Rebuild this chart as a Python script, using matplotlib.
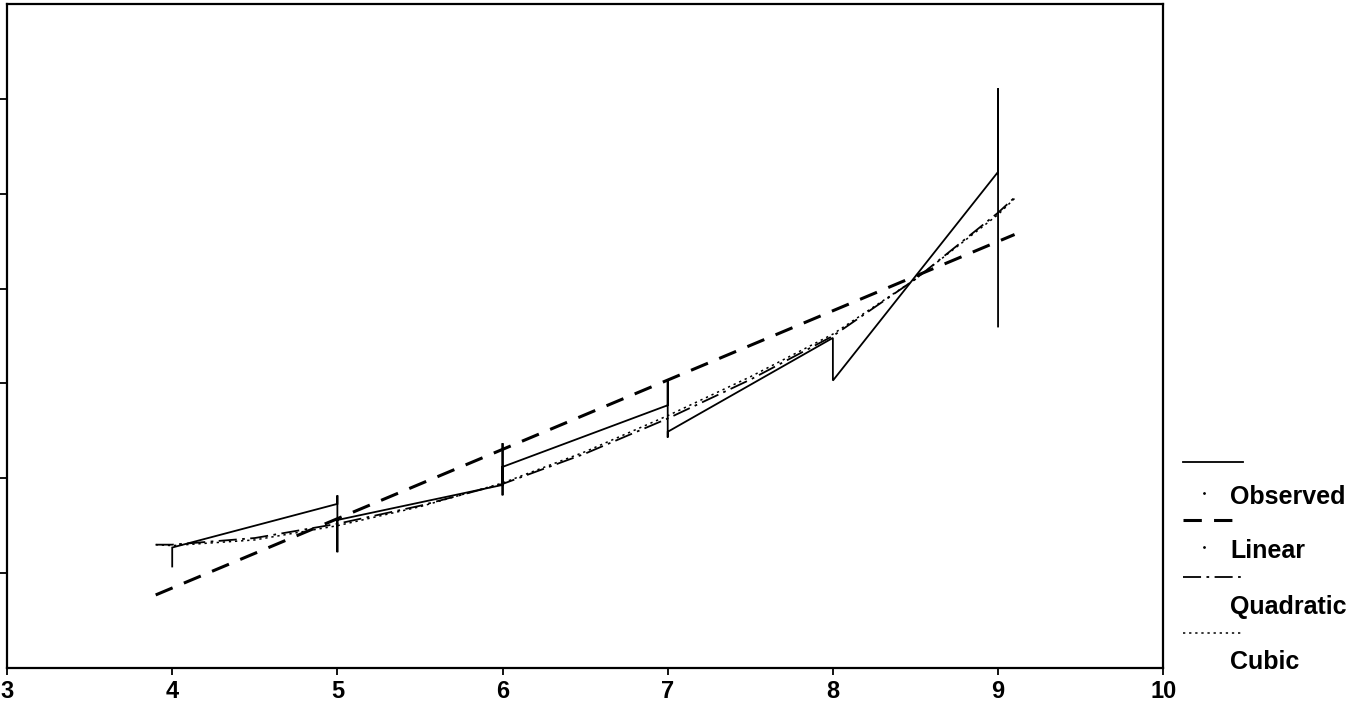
import numpy as np
import matplotlib.pyplot as plt
from matplotlib.lines import Line2D

plt.rcParams['font.family'] = ['Liberation Sans', 'DejaVu Sans']

# Beobachtete Werte (mehrere Messungen je x, in Reihenfolge verbunden)
obs_x = [4, 4, 5, 5, 5, 5, 6, 6, 6, 6, 7, 7, 7, 7, 8, 8, 9, 9, 9]
obs_y = [1.07, 1.27, 1.73, 1.82, 1.22, 1.56, 1.93, 2.37, 1.82, 2.12,
         2.77, 3.04, 2.43, 2.49, 3.48, 3.03, 5.23, 6.11, 3.60]

# Angepasste Kurven
lin_x = [3.9, 9.1]
lin_y = [0.77, 4.57]

fit_x = [3.9, 4.0, 4.5, 5.0, 5.5, 6.0, 6.5, 7.0, 7.5, 8.0, 8.5, 9.0, 9.1]
quad_y = [1.30, 1.30, 1.37, 1.52, 1.71, 1.94, 2.26, 2.63, 3.04, 3.50, 4.10, 4.80, 4.96]
cub_y = [1.30, 1.29, 1.35, 1.50, 1.70, 1.95, 2.28, 2.66, 3.07, 3.52, 4.10, 4.78, 4.95]

x_ticks = [3, 4, 5, 6, 7, 8, 9, 10]
y_ticks = [1, 2, 3, 4, 5, 6]

fig = plt.figure(figsize=(13.54, 7.07), dpi=100)
ax = fig.add_axes([0.0052, 0.0552, 0.8539, 0.9391])

ax.plot(obs_x, obs_y, color='black', lw=1.3, solid_joinstyle='miter')
ax.plot(lin_x, lin_y, color='black', lw=2.2, dashes=(6, 4))
ax.plot(fit_x, quad_y, color='black', lw=1.3, dashes=(10, 3, 1.5, 3))
ax.plot(fit_x, cub_y, color='black', lw=1.1, dashes=(1.5, 2.5))

ax.set_xlim(3, 10)
ax.set_ylim(0, 7)
ax.set_xticks(x_ticks)
ax.set_xticklabels([str(t) for t in x_ticks], fontsize=17, fontweight='bold')
ax.set_yticks(y_ticks)
ax.set_yticklabels([])
ax.tick_params(direction='out', length=5, width=1.3, pad=4)
for s in ax.spines.values():
    s.set_linewidth(1.6)

# Legende rechts, Linie oben, Text darunter
W, H = 1354, 707
entries = [
    ('Observed', dict(lw=1.3), 462, 497, True),
    ('Linear', dict(lw=2.2, dashes=(6, 4)), 520, 551, True),
    ('Quadratic', dict(lw=1.3, dashes=(10, 3, 1.5, 3)), 577, 607, False),
    ('Cubic', dict(lw=1.1, dashes=(1.5, 2.5)), 633, 662, False),
]
for label, style, ly, ty, dot in entries:
    fig.add_artist(Line2D([1183 / W, 1243 / W], [1 - ly / H, 1 - ly / H],
                          color='black', transform=fig.transFigure, **style))
    if dot:
        fig.add_artist(Line2D([1204 / W], [1 - (ty - 4) / H], marker='.',
                              markersize=2, color='black', lw=0,
                              transform=fig.transFigure))
    fig.text(1230 / W, 1 - ty / H, label, fontsize=18, fontweight='bold',
             va='center', ha='left')

fig.savefig('out.png', dpi=100)
